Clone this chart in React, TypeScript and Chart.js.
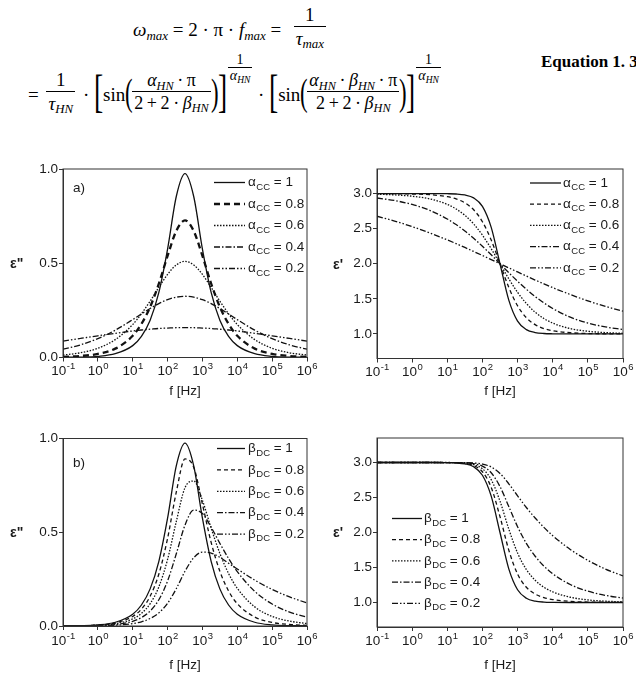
import React, { useEffect, useRef } from "react";
import { Chart, registerables } from "chart.js";
Chart.register(...registerables);

// ---------- data ----------
const FREQ_HZ = [0.1, 0.3162, 1, 3.162, 10, 17.78, 31.62, 56.23, 100, 177.8, 316.2, 562.3, 1000, 1778, 3162, 5623, 10000, 31623, 100000, 316228, 1000000];
const TICK_FREQ = [0.1, 1, 10, 100, 1000, 10000, 100000, 1000000];
const TICK_EXP = ["-1", "0", "1", "2", "3", "4", "5", "6"];
const PARAM_VALUES = ["1", "0.8", "0.6", "0.4", "0.2"];
const LOSS_TICKS = [0, 0.5, 1];
const PERM_TICKS = [1, 1.5, 2, 2.5, 3];

// Cole-Cole, loss eps''
const CC_LOSS_10 = [0.001, 0.002, 0.006, 0.020, 0.063, 0.112, 0.198, 0.345, 0.575, 0.854, 0.975, 0.854, 0.575, 0.345, 0.198, 0.112, 0.063, 0.020, 0.006, 0.002, 0.001];
const CC_LOSS_08 = [0.003, 0.008, 0.019, 0.047, 0.115, 0.178, 0.268, 0.392, 0.539, 0.671, 0.727, 0.671, 0.539, 0.392, 0.268, 0.178, 0.115, 0.047, 0.019, 0.008, 0.003];
const CC_LOSS_06 = [0.013, 0.025, 0.049, 0.095, 0.175, 0.232, 0.299, 0.372, 0.441, 0.491, 0.510, 0.491, 0.441, 0.372, 0.299, 0.232, 0.175, 0.095, 0.049, 0.025, 0.013];
const CC_LOSS_04 = [0.044, 0.067, 0.100, 0.145, 0.201, 0.231, 0.260, 0.286, 0.307, 0.320, 0.325, 0.320, 0.307, 0.286, 0.260, 0.231, 0.201, 0.145, 0.100, 0.067, 0.044];
const CC_LOSS_02 = [0.087, 0.101, 0.115, 0.128, 0.141, 0.146, 0.150, 0.154, 0.156, 0.158, 0.158, 0.158, 0.156, 0.154, 0.150, 0.146, 0.141, 0.128, 0.115, 0.101, 0.087];

// Cole-Cole, permittivity eps'
const CC_PERM_10 = [3.000, 3.000, 3.000, 3.000, 2.998, 2.994, 2.980, 2.939, 2.818, 2.519, 2.000, 1.481, 1.182, 1.061, 1.020, 1.006, 1.002, 1.000, 1.000, 1.000, 1.000];
const CC_PERM_08 = [2.999, 2.998, 2.994, 2.984, 2.955, 2.924, 2.868, 2.769, 2.599, 2.337, 2.000, 1.663, 1.401, 1.231, 1.132, 1.076, 1.045, 1.017, 1.006, 1.002, 1.001];
const CC_PERM_06 = [2.991, 2.981, 2.962, 2.924, 2.846, 2.781, 2.690, 2.567, 2.407, 2.214, 2.000, 1.786, 1.593, 1.434, 1.310, 1.220, 1.154, 1.076, 1.038, 1.019, 1.009];
const CC_PERM_04 = [2.937, 2.901, 2.845, 2.761, 2.638, 2.558, 2.467, 2.363, 2.249, 2.127, 2.000, 1.873, 1.751, 1.637, 1.533, 1.442, 1.362, 1.239, 1.155, 1.100, 1.063];
const CC_PERM_02 = [2.677, 2.608, 2.529, 2.439, 2.340, 2.287, 2.232, 2.175, 2.118, 2.059, 2.000, 1.941, 1.883, 1.825, 1.768, 1.714, 1.660, 1.561, 1.471, 1.392, 1.324];

// Davidson-Cole, loss eps''
const DC_LOSS_10 = [0.001, 0.002, 0.006, 0.020, 0.063, 0.112, 0.198, 0.345, 0.575, 0.854, 0.975, 0.854, 0.575, 0.345, 0.198, 0.112, 0.063, 0.020, 0.006, 0.002, 0.001];
const DC_LOSS_08 = [0.0005, 0.0016, 0.005, 0.016, 0.051, 0.090, 0.159, 0.277, 0.467, 0.714, 0.891, 0.847, 0.650, 0.446, 0.292, 0.187, 0.119, 0.048, 0.019, 0.008, 0.003];
const DC_LOSS_06 = [0.0004, 0.0012, 0.004, 0.012, 0.038, 0.067, 0.119, 0.209, 0.355, 0.557, 0.738, 0.773, 0.670, 0.522, 0.387, 0.280, 0.201, 0.102, 0.051, 0.026, 0.013];
const DC_LOSS_04 = [0.0003, 0.0008, 0.0025, 0.008, 0.025, 0.045, 0.080, 0.140, 0.240, 0.385, 0.538, 0.618, 0.600, 0.527, 0.441, 0.360, 0.290, 0.185, 0.117, 0.074, 0.047];
const DC_LOSS_02 = [0.0001, 0.0004, 0.0013, 0.004, 0.013, 0.022, 0.040, 0.070, 0.121, 0.199, 0.292, 0.364, 0.394, 0.389, 0.366, 0.335, 0.304, 0.245, 0.195, 0.155, 0.123];

// Davidson-Cole, permittivity eps'
const DC_PERM_10 = [3.000, 3.000, 3.000, 3.000, 2.998, 2.994, 2.980, 2.939, 2.818, 2.519, 2.000, 1.481, 1.182, 1.061, 1.020, 1.006, 1.002, 1.000, 1.000, 1.000, 1.000];
const DC_PERM_08 = [3.000, 3.000, 3.000, 3.000, 2.999, 2.996, 2.986, 2.956, 2.868, 2.644, 2.226, 1.749, 1.406, 1.218, 1.121, 1.070, 1.042, 1.016, 1.006, 1.003, 1.001];
const DC_PERM_06 = [3.000, 3.000, 3.000, 3.000, 2.999, 2.997, 2.991, 2.970, 2.911, 2.755, 2.448, 2.050, 1.707, 1.471, 1.318, 1.218, 1.152, 1.075, 1.037, 1.019, 1.009];
const DC_PERM_04 = [3.000, 3.000, 3.000, 3.000, 2.999, 2.998, 2.994, 2.983, 2.948, 2.854, 2.656, 2.371, 2.083, 1.845, 1.661, 1.520, 1.410, 1.257, 1.162, 1.102, 1.064];
const DC_PERM_02 = [3.000, 3.000, 3.000, 3.000, 3.000, 2.999, 2.998, 2.993, 2.977, 2.936, 2.843, 2.696, 2.524, 2.357, 2.207, 2.073, 1.955, 1.758, 1.602, 1.478, 1.380];

// ---------- styling ----------
const SANS = "'Liberation Sans', Arial, sans-serif";
const SERIF = "'Liberation Serif', 'Times New Roman', serif";
const INK = "#111";
const FRAME = "#333";
const DASH_BOLD = [[], [6, 4], [1.5, 1.5], [6, 2, 1.5, 2], [6, 2, 1.5, 2, 1.5, 2]];
const DASH_THIN = [[], [4, 3], [1.5, 1.5], [6, 2, 1.5, 2], [6, 2, 1.5, 2, 1.5, 2]];
const WIDTH_BOLD = [1.3, 2.3, 1.3, 1.3, 1.3];
const WIDTH_THIN = [1.3, 1.3, 1.3, 1.3, 1.3];

type Panel = {
  key: string;
  left: number; top: number; width: number; height: number;
  yWidth: number; pad: { top: number; right: number; bottom: number };
  series: number[][];
  yMin: number; yMax: number; yTicks: number[];
  yTitle: string; yTitleX: number;
  symbol: string; sub: string;
  dash: number[][]; widths: number[];
  legend: { anchor: "left" | "right"; x0: number; x1: number; tx: number; y0: number; dy: number };
  tag?: { text: string; x: number; y: number };
  tickDy: number; titleDy: number;
};

const PANELS: Panel[] = [
  {
    key: "a", left: 0, top: 150, width: 318, height: 250,
    yWidth: 63, pad: { top: 19, right: 11, bottom: 32.5 },
    series: [CC_LOSS_10, CC_LOSS_08, CC_LOSS_06, CC_LOSS_04, CC_LOSS_02],
    yMin: 0, yMax: 1, yTicks: LOSS_TICKS, yTitle: "ε\"", yTitleX: 10,
    symbol: "α", sub: "CC", dash: DASH_BOLD, widths: WIDTH_BOLD,
    legend: { anchor: "right", x0: -93, x1: -62, tx: -59, y0: 13.5, dy: 21.5 },
    tag: { text: "a)", x: 10, y: 19 }, tickDy: 13.5, titleDy: 33.5,
  },
  {
    key: "c", left: 318, top: 150, width: 318, height: 250,
    yWidth: 59, pad: { top: 19, right: 13, bottom: 31.5 },
    series: [CC_PERM_10, CC_PERM_08, CC_PERM_06, CC_PERM_04, CC_PERM_02],
    yMin: 0.65, yMax: 3.35, yTicks: PERM_TICKS, yTitle: "ε'", yTitleX: 15,
    symbol: "α", sub: "CC", dash: DASH_THIN, widths: WIDTH_THIN,
    legend: { anchor: "right", x0: -93, x1: -62, tx: -60, y0: 14, dy: 21.2 },
    tickDy: 13.5, titleDy: 32.5,
  },
  {
    key: "b", left: 0, top: 420, width: 318, height: 260,
    yWidth: 63, pad: { top: 18.5, right: 11, bottom: 44 },
    series: [DC_LOSS_10, DC_LOSS_08, DC_LOSS_06, DC_LOSS_04, DC_LOSS_02],
    yMin: 0, yMax: 1, yTicks: LOSS_TICKS, yTitle: "ε\"", yTitleX: 10,
    symbol: "β", sub: "DC", dash: DASH_THIN, widths: WIDTH_THIN,
    legend: { anchor: "right", x0: -90, x1: -62, tx: -59, y0: 10, dy: 21.4 },
    tag: { text: "b)", x: 10, y: 24.5 }, tickDy: 15, titleDy: 39,
  },
  {
    key: "d", left: 318, top: 420, width: 318, height: 260,
    yWidth: 59, pad: { top: 18, right: 13, bottom: 43 },
    series: [DC_PERM_10, DC_PERM_08, DC_PERM_06, DC_PERM_04, DC_PERM_02],
    yMin: 0.65, yMax: 3.35, yTicks: PERM_TICKS, yTitle: "ε'", yTitleX: 15,
    symbol: "β", sub: "DC", dash: DASH_THIN, widths: WIDTH_THIN,
    legend: { anchor: "left", x0: 15, x1: 45, tx: 47, y0: 80.5, dy: 21.2 },
    tickDy: 14.5, titleDy: 38.5,
  },
];

const MAIN_FONT = `13.5px ${SANS}`;
const SMALL_FONT = `9.5px ${SANS}`;

const decorPlugin = {
  id: "decor",
  afterDraw(chart: any, _args: any, o: any) {
    const p: Panel = o.panel;
    const ctx = chart.ctx as CanvasRenderingContext2D;
    const a = chart.chartArea;
    const xs = chart.scales.x;
    ctx.save();
    // frame
    ctx.strokeStyle = FRAME;
    ctx.lineWidth = 1;
    ctx.setLineDash([]);
    ctx.strokeRect(a.left, a.top, a.right - a.left, a.bottom - a.top);
    ctx.fillStyle = "#1a1a1a";
    ctx.textBaseline = "middle";
    ctx.textAlign = "left";
    // x tick labels 10^n
    for (let i = 0; i < TICK_FREQ.length; i++) {
      const px = xs.getPixelForValue(TICK_FREQ[i]);
      ctx.font = MAIN_FONT;
      const w1 = ctx.measureText("10").width;
      ctx.font = SMALL_FONT;
      const w2 = ctx.measureText(TICK_EXP[i]).width;
      const x0 = px - (w1 + w2) / 2;
      ctx.font = MAIN_FONT;
      ctx.fillText("10", x0, a.bottom + p.tickDy);
      ctx.font = SMALL_FONT;
      ctx.fillText(TICK_EXP[i], x0 + w1 + 0.5, a.bottom + p.tickDy - 5);
    }
    // x title
    ctx.font = MAIN_FONT;
    ctx.textAlign = "center";
    ctx.fillText("f [Hz]", (a.left + a.right) / 2, a.bottom + p.titleDy);
    // y title
    ctx.textAlign = "left";
    ctx.font = `bold 14px ${SANS}`;
    ctx.fillText(p.yTitle, p.yTitleX, (a.top + a.bottom) / 2 + 1);
    // panel tag
    if (p.tag) {
      ctx.font = MAIN_FONT;
      ctx.fillText(p.tag.text, a.left + p.tag.x, a.top + p.tag.y);
    }
    // legend
    const base = p.legend.anchor === "right" ? a.right : a.left;
    for (let i = 0; i < PARAM_VALUES.length; i++) {
      const y = a.top + p.legend.y0 + i * p.legend.dy;
      ctx.strokeStyle = INK;
      ctx.lineWidth = p.widths[i];
      ctx.setLineDash(p.dash[i]);
      ctx.beginPath();
      ctx.moveTo(base + p.legend.x0, y);
      ctx.lineTo(base + p.legend.x1, y);
      ctx.stroke();
      ctx.setLineDash([]);
      let tx = base + p.legend.tx;
      ctx.font = MAIN_FONT;
      ctx.fillText(p.symbol, tx, y);
      tx += ctx.measureText(p.symbol).width + 0.5;
      ctx.font = SMALL_FONT;
      ctx.fillText(p.sub, tx, y + 4.5);
      tx += ctx.measureText(p.sub).width;
      ctx.font = MAIN_FONT;
      ctx.fillText(" = " + PARAM_VALUES[i], tx, y);
    }
    ctx.restore();
  },
};

function PanelChart({ p }: { p: Panel }) {
  const ref = useRef<HTMLCanvasElement | null>(null);
  useEffect(() => {
    if (!ref.current) return;
    const datasets = p.series.map((vals, i) => ({
      label: PARAM_VALUES[i],
      data: FREQ_HZ.map((f, j) => ({ x: f, y: vals[j] })),
      borderColor: INK,
      borderWidth: p.widths[i],
      borderDash: p.dash[i],
      pointRadius: 0,
      fill: false,
      cubicInterpolationMode: "monotone" as const,
    }));
    const chart = new Chart(ref.current, {
      type: "line",
      data: { datasets },
      options: {
        animation: false,
        responsive: false,
        maintainAspectRatio: false,
        layout: { padding: { left: 0, top: p.pad.top, right: p.pad.right, bottom: p.pad.bottom } },
        plugins: {
          legend: { display: false },
          tooltip: { enabled: false },
          decor: { panel: p },
        } as any,
        scales: {
          x: {
            type: "logarithmic",
            min: 0.1,
            max: 1000000,
            afterBuildTicks: (s: any) => {
              s.ticks = TICK_FREQ.map((v) => ({ value: v }));
            },
            afterFit: (s: any) => {
              s.height = 10;
            },
            ticks: { display: false },
            grid: { display: true, drawOnChartArea: false, drawTicks: true, tickLength: 4, color: FRAME },
            border: { display: true, color: FRAME, width: 1 },
          },
          y: {
            type: "linear",
            min: p.yMin,
            max: p.yMax,
            afterBuildTicks: (s: any) => {
              s.ticks = p.yTicks.map((v) => ({ value: v }));
            },
            afterFit: (s: any) => {
              s.width = p.yWidth;
            },
            ticks: {
              callback: (v: any) => Number(v).toFixed(1),
              font: { family: SANS, size: 13.5 },
              color: "#1a1a1a",
              padding: 1,
            },
            grid: { display: true, drawOnChartArea: false, drawTicks: true, tickLength: 4, color: FRAME },
            border: { display: true, color: FRAME, width: 1 },
          },
        },
      },
      plugins: [decorPlugin],
    } as any);
    return () => chart.destroy();
  }, [p]);
  return (
    <canvas
      ref={ref}
      width={p.width}
      height={p.height}
      style={{ position: "absolute", left: p.left, top: p.top, width: p.width, height: p.height }}
    />
  );
}

// ---------- equation (HTML text) ----------
const TS = "\u2009"; // thin space
function Sub({ children }: { children: any }) {
  return (
    <span style={{ fontSize: "0.68em", position: "relative", top: "0.3em", fontStyle: "italic" }}>{children}</span>
  );
}
function I({ children }: { children: any }) {
  return <span style={{ fontStyle: "italic" }}>{children}</span>;
}
function Frac({ num, den, m = 3, lh = 1.15, fs }: { num: any; den: any; m?: number; lh?: number; fs?: number }) {
  return (
    <span
      style={{
        display: "inline-flex", flexDirection: "column", alignItems: "center", margin: `0 ${m}px`,
        fontSize: fs,
      }}
    >
      <span style={{ padding: "0 2px", lineHeight: lh }}>{num}</span>
      <span style={{ alignSelf: "stretch", borderTop: "1px solid #000" }} />
      <span style={{ padding: "0 2px", lineHeight: lh + 0.1 }}>{den}</span>
    </span>
  );
}
function Br({ ch, size, w, sx, top = 0 }: { ch: string; size: number; w: number; sx: number; top?: number }) {
  return (
    <span style={{ display: "inline-block", width: w, height: size, position: "relative", top }}>
      <span
        style={{
          position: "absolute", left: 0, top: 0, fontSize: size, lineHeight: 1,
          transform: `scaleX(${sx})`, transformOrigin: "left center",
        }}
      >
        {ch}
      </span>
    </span>
  );
}
function Exp() {
  return (
    <span style={{ fontSize: 14, position: "relative", top: -24 }}>
      <Frac num="1" den={<><I>α</I><Sub>HN</Sub></>} m={1} lh={1.0} />
    </span>
  );
}
const T = ({ children }: { children: any }) => (
  <span style={{ position: "relative", top: 3, whiteSpace: "pre" }}>{children}</span>
);

function Equation() {
  const den = <>{`2${TS}+${TS}2${TS}·${TS}`}<I>β</I><Sub>HN</Sub></>;
  return (
    <>
      <div
        style={{
          position: "absolute", left: 133, top: 3, height: 48, display: "flex", alignItems: "center",
          fontFamily: SERIF, fontSize: 19, whiteSpace: "nowrap",
        }}
      >
        <T>
          <I>ω</I><Sub>max</Sub>{" = 2 · π · "}<I>f</I><Sub>max</Sub>{" =  "}
        </T>
        <Frac num="1" den={<><I>τ</I><Sub>max</Sub></>} />
      </div>
      <div
        style={{
          position: "absolute", left: 28, top: 49, height: 86, display: "flex", alignItems: "center",
          fontFamily: SERIF, fontSize: 19, whiteSpace: "nowrap",
        }}
      >
        <T>{"= "}</T>
        <Frac num="1" den={<><I>τ</I><Sub>HN</Sub></>} />
        <T>{" · "}</T>
        <Br ch="[" size={46} w={9} sx={0.6} />
        <T>{"sin"}</T>
        <Br ch="(" size={38} w={7} sx={0.6} />
        <Frac num={<><I>α</I><Sub>HN</Sub>{`${TS}·${TS}π`}</>} den={den} m={0} fs={18} />
        <Br ch=")" size={38} w={7} sx={0.6} />
        <Br ch="]" size={46} w={9} sx={0.6} />
        <Exp />
        <T>{" · "}</T>
        <Br ch="[" size={46} w={9} sx={0.6} />
        <T>{"sin"}</T>
        <Br ch="(" size={38} w={7} sx={0.6} />
        <Frac
          num={<><I>α</I><Sub>HN</Sub>{`${TS}·${TS}`}<I>β</I><Sub>HN</Sub>{`${TS}·${TS}π`}</>}
          den={den}
          m={0}
          fs={18}
        />
        <Br ch=")" size={38} w={7} sx={0.6} />
        <Br ch="]" size={46} w={9} sx={0.6} />
        <Exp />
      </div>
      <div
        style={{
          position: "absolute", left: 541, top: 52, fontFamily: SERIF, fontSize: 17, fontWeight: "bold",
          whiteSpace: "nowrap",
        }}
      >
        Equation 1. 3
      </div>
    </>
  );
}

export default function App() {
  return (
    <div
      style={{
        position: "fixed", left: 0, top: 0, width: 636, height: 680, background: "#fff", overflow: "hidden",
      }}
    >
      <Equation />
      {PANELS.map((p) => (
        <PanelChart key={p.key} p={p} />
      ))}
    </div>
  );
}
